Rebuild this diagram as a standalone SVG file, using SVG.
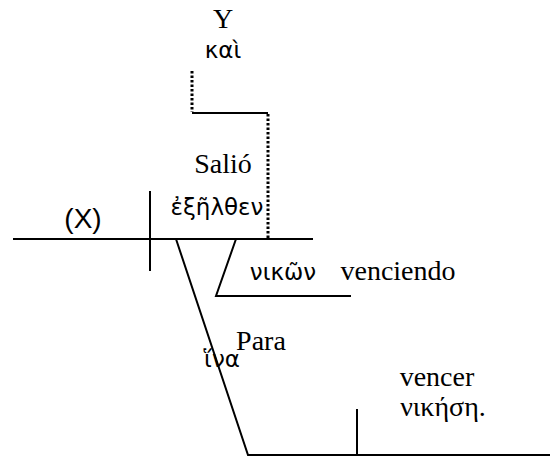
<svg xmlns="http://www.w3.org/2000/svg" width="550" height="457" viewBox="0 0 550 457">
<style>
.ln{stroke:#000;stroke-width:2;fill:none}
.dot{stroke:#000;stroke-width:3;fill:none;stroke-dasharray:2.5 2}
.t{font-family:"Liberation Serif",serif;font-size:28px;fill:#000}
.g{font-family:"DejaVu Sans","Noto Sans",sans-serif;font-size:23px;fill:#000}
.s{font-family:"Liberation Sans",Arial,sans-serif;font-size:28px;fill:#000}
</style>
<rect width="550" height="457" fill="#fff"/>
<g id="connectors">
<path class="dot" d="M192,71 V112"/>
<path class="ln" d="M192,113 H268"/>
<path class="dot" d="M268,114 V238"/>
<path class="ln" d="M13,239 H313"/>
<path class="ln" d="M150,191 V271"/>
<path class="ln" d="M236,239 L216,296 H351"/>
<path class="ln" d="M176,239 L248,455 H550"/>
<path class="ln" d="M357,409 V455"/>
</g>
<g id="node-y"><text class="t" x="223" y="28" text-anchor="middle">Y</text><text class="g" x="223" y="58" text-anchor="middle">καὶ</text></g>
<g id="node-x"><text class="s" x="83" y="228" text-anchor="middle">(X)</text></g>
<g id="node-salio"><text class="t" x="223" y="173" text-anchor="middle">Salió</text><text class="g" x="217" y="215" text-anchor="middle">ἐξῆλθεν</text></g>
<g id="node-venciendo"><text class="g" x="283" y="280" text-anchor="middle">νικῶν</text><text class="t" x="398" y="280" text-anchor="middle">venciendo</text></g>
<g id="node-para"><text class="t" x="261" y="350" text-anchor="middle">Para</text><text class="g" x="222" y="367" text-anchor="middle">ἵνα</text></g>
<g id="node-vencer"><text class="t" x="437" y="386" text-anchor="middle">vencer</text><text class="t" x="443" y="416" text-anchor="middle">νικήση.</text></g>
</svg>
